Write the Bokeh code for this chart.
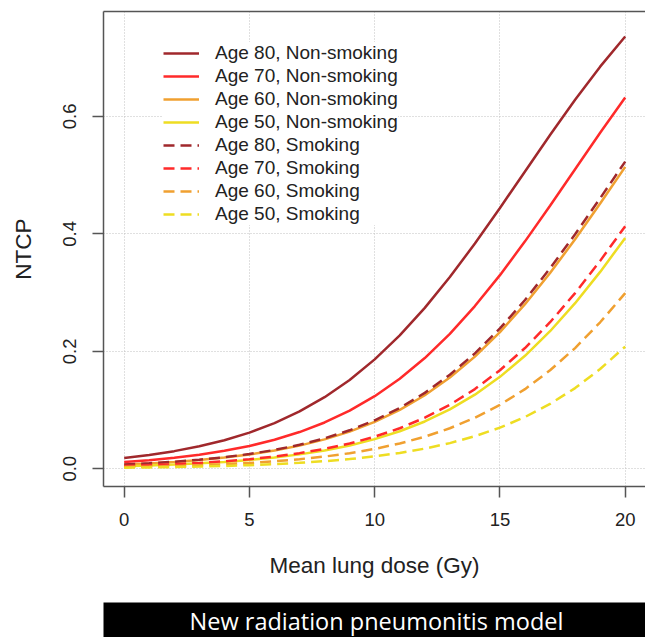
from bokeh.plotting import figure
from bokeh.models import Range1d, FixedTicker, LinearAxis, Legend, LegendItem
from bokeh.layouts import column
from bokeh.core.properties import value
from bokeh.embed import file_html
from bokeh.resources import INLINE

# ---- data ----
dose = [0, 1, 2, 3, 4, 5, 6, 7, 8, 9, 10, 11, 12, 13, 14, 15, 16, 17, 18, 19, 20]

age80_nonsmoking = [0.0184, 0.0236, 0.0300, 0.0382, 0.0485, 0.0615, 0.0777, 0.0976, 0.1219, 0.1512,
                    0.1863, 0.2271, 0.2739, 0.3264, 0.3835, 0.4441, 0.5063, 0.5684, 0.6284, 0.6847, 0.736]
age70_nonsmoking = [0.0114, 0.0146, 0.0187, 0.0239, 0.0305, 0.0388, 0.0493, 0.0625, 0.0788, 0.0989,
                    0.1236, 0.1532, 0.1885, 0.2298, 0.2770, 0.3297, 0.3872, 0.4479, 0.5101, 0.5721, 0.632]
age60_nonsmoking = [0.0071, 0.0091, 0.0116, 0.0149, 0.0190, 0.0243, 0.0310, 0.0394, 0.0500, 0.0633,
                    0.0799, 0.1003, 0.1252, 0.1553, 0.1909, 0.2326, 0.2802, 0.3332, 0.3909, 0.4517, 0.514]
age50_nonsmoking = [0.0043, 0.0056, 0.0071, 0.0092, 0.0117, 0.0150, 0.0192, 0.0245, 0.0312, 0.0397,
                    0.0505, 0.0639, 0.0805, 0.1011, 0.1262, 0.1565, 0.1924, 0.2342, 0.2819, 0.3352, 0.393]
age80_smoking = [0.0073, 0.0094, 0.0120, 0.0154, 0.0197, 0.0251, 0.0320, 0.0408, 0.0518, 0.0655,
                 0.0826, 0.1036, 0.1292, 0.1601, 0.1965, 0.2390, 0.2874, 0.3412, 0.3994, 0.4606, 0.523]
age70_smoking = [0.0047, 0.0061, 0.0078, 0.0099, 0.0127, 0.0163, 0.0208, 0.0266, 0.0339, 0.0430,
                 0.0546, 0.0690, 0.0869, 0.1090, 0.1357, 0.1678, 0.2056, 0.2495, 0.2991, 0.3540, 0.413]
age60_smoking = [0.0029, 0.0037, 0.0047, 0.0060, 0.0077, 0.0099, 0.0127, 0.0163, 0.0208, 0.0265,
                 0.0338, 0.0430, 0.0546, 0.0690, 0.0869, 0.1089, 0.1356, 0.1677, 0.2055, 0.2494, 0.299]
age50_smoking = [0.0018, 0.0023, 0.0029, 0.0037, 0.0048, 0.0061, 0.0079, 0.0101, 0.0129, 0.0165,
                 0.0211, 0.0269, 0.0343, 0.0437, 0.0554, 0.0700, 0.0881, 0.1104, 0.1374, 0.1698, 0.208]

series_labels = ["Age 80, Non-smoking", "Age 70, Non-smoking", "Age 60, Non-smoking", "Age 50, Non-smoking",
                 "Age 80, Smoking", "Age 70, Smoking", "Age 60, Smoking", "Age 50, Smoking"]
series_values = [age80_nonsmoking, age70_nonsmoking, age60_nonsmoking, age50_nonsmoking,
                 age80_smoking, age70_smoking, age60_smoking, age50_smoking]

x_ticks = [0, 5, 10, 15, 20]
y_ticks = [0.0, 0.2, 0.4, 0.6]
y_tick_labels = {0.0: "0.0", 0.2: "0.2", 0.4: "0.4", 0.6: "0.6"}

x_label = "Mean lung dose (Gy)"
y_label = "NTCP"
caption = "New radiation pneumonitis model"

# ---- styles ----
colors = ["#A0282C", "#FF2A2A", "#F0A030", "#EEDD22"] * 2
dashes = ["solid"] * 4 + ["11 6"] * 4
FONT = "Liberation Sans"
AXIS_COLOR = "#555555"

p = figure(width=645, height=602, output_backend="svg", toolbar_location=None,
           x_range=Range1d(-0.826, 20.81), y_range=Range1d(-0.0302, 0.7786),
           min_border_left=103, min_border_right=0, min_border_top=11, min_border_bottom=116)
p.outline_line_color = None
p.background_fill_color = "white"

renderers = []
for vals, col, dash in zip(series_values, colors, dashes):
    r = p.line(dose, vals, line_color=col, line_width=2.5, line_dash=dash)
    renderers.append(r)

# axes
xa = p.xaxis[0]
xa.ticker = FixedTicker(ticks=x_ticks)
xa.axis_label = x_label
ya = p.yaxis[0]
ya.ticker = FixedTicker(ticks=y_ticks)
ya.axis_label = y_label
ya.major_label_overrides = y_tick_labels
ya.major_label_orientation = "vertical"
for ax in (xa, ya):
    ax.axis_line_color = AXIS_COLOR
    ax.axis_line_width = 1.5
    ax.major_tick_line_color = AXIS_COLOR
    ax.major_tick_line_width = 1.5
    ax.major_tick_out = 11
    ax.major_tick_in = 0
    ax.minor_tick_line_color = None
    ax.major_label_text_font = FONT
    ax.major_label_text_font_size = "18.5px"
    ax.major_label_text_color = "#222222"
    ax.axis_label_text_font = FONT
    ax.axis_label_text_font_size = "22.5px"
    ax.axis_label_text_font_style = "normal"
    ax.axis_label_text_color = "#222222"
xa.major_label_standoff = 15
xa.axis_label_standoff = 24
ya.major_label_standoff = 16
ya.axis_label_standoff = 25

top_axis = LinearAxis(ticker=FixedTicker(ticks=[]), axis_line_color=AXIS_COLOR, axis_line_width=1.5,
                      major_label_text_font_size="0px", major_tick_line_color=None,
                      minor_tick_line_color=None)
p.add_layout(top_axis, "above")

# grid
p.xgrid.ticker = FixedTicker(ticks=x_ticks)
p.ygrid.ticker = FixedTicker(ticks=y_ticks)
for g in (p.xgrid[0], p.ygrid[0]):
    g.grid_line_color = "#C0C0C0"
    g.grid_line_dash = "1 2"
    g.grid_line_width = 1

# legend
items = [LegendItem(label=lab, renderers=[r]) for lab, r in zip(series_labels, renderers)]
legend = Legend(items=items, location=(60, 261), background_fill_color="white",
                background_fill_alpha=1.0, border_line_color=None, padding=16, margin=0,
                glyph_width=36, glyph_height=22, label_height=22, spacing=1, label_standoff=16,
                label_text_font=FONT, label_text_font_size="19px", label_text_color="#222222")
p.add_layout(legend, "center")

# caption bar
p2 = figure(width=645, height=35, output_backend="svg", toolbar_location=None,
            x_range=Range1d(0, 542), y_range=Range1d(0, 35), x_axis_type=None, y_axis_type=None,
            min_border_left=103, min_border_right=0, min_border_top=0, min_border_bottom=0,
            background_fill_color="black", border_fill_color="white")
p2.outline_line_color = None
p2.grid.visible = False
p2.text(x=[273], y=[17], text=[caption], text_font=value("Open Sans"), text_font_size="23.5px",
        text_color="white", text_align="center", text_baseline="alphabetic")

layout = column(p, p2, spacing=0)
open("out.html", "w").write(file_html(layout, INLINE))
